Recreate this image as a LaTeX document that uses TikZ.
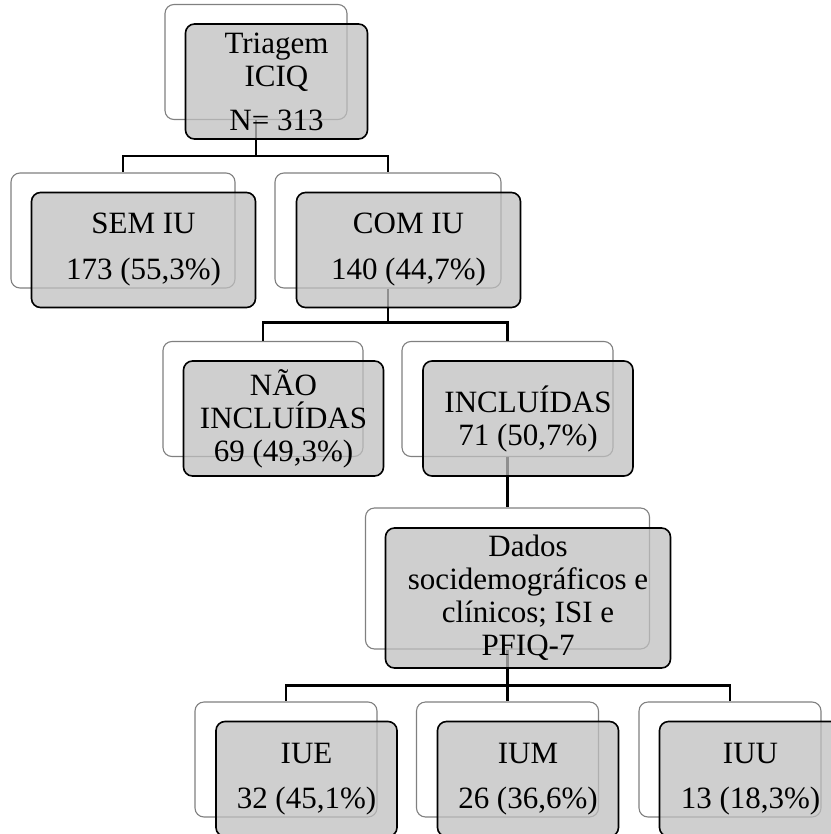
\documentclass[tikz,border=0pt]{standalone}
\usepackage{fontspec}
\setmainfont{Liberation Serif}
\begin{document}
\begin{tikzpicture}[x=1pt,y=-1pt]
	\tikzset{back box/.style={draw=black!50, fill=white, line width=1.1pt, rounded corners=9pt, inner sep=0pt, minimum width=#1, minimum height=115pt}}
	\tikzset{front box/.style={draw=black, line width=1.6pt, fill=black!25, fill opacity=0.75, text opacity=1, rounded corners=9pt, inner sep=0pt, minimum width=#1, minimum height=115pt, align=center, font=\fontsize{31}{33}\selectfont, xshift=20.5pt, yshift=-19.5pt}}
	\tikzset{link/.style={line width=2.4pt, line join=miter}}
	\useasboundingbox (0,0) rectangle (830,834);

	% back layer
	\node[back box=182pt] (triagemB) at (256,62) {};
	\node[back box=224pt] (semB) at (123,230.5) {};
	\node[back box=226pt] (comB) at (388,230.5) {};
	\node[back box=200pt] (naoB) at (263,399) {};
	\node[back box=211pt] (inclB) at (507.5,399) {};
	\node[back box=284pt, minimum height=141pt] (dadosB) at (507.5,578.5) {};
	\node[back box=182pt] (iueB) at (286,759.5) {};
	\node[back box=182pt] (iumB) at (507.5,759.5) {};
	\node[back box=182pt] (iuuB) at (730,759.5) {};

	% connectors
	\draw[link] (triagemB.south) -- ++(0,36) -| (semB.north)
		(triagemB.south) -- ++(0,36) -| (comB.north);
	\draw[link] (comB.south) -- ++(0,34) -| (naoB.north)
		(comB.south) -- ++(0,34) -| (inclB.north);
	\draw[link] (inclB.south) -- (dadosB.north);
	\draw[link] (dadosB.south) -- ++(0,36) -| (iueB.north)
		(dadosB.south) -- ++(0,36) -| (iumB.north)
		(dadosB.south) -- ++(0,36) -| (iuuB.north);

	% front layer
	\node[front box=182pt] (triagem) at (256,62) {Triagem\\ICIQ\\[11pt]N= 313};
	\node[front box=224pt] (sem) at (123,230.5) {SEM IU\\[13pt]173 (55,3\%)};
	\node[front box=224pt] (com) at (388,230.5) {COM IU\\[13pt]140 (44,7\%)};
	\node[front box=200pt] (nao) at (263,399) {NÃO\\INCLUÍDAS\\69 (49,3\%)};
	\node[front box=210pt] (incl) at (507.5,399) {INCLUÍDAS\\71 (50,7\%)};
	\node[front box=285pt, minimum height=140pt] (dados) at (507.5,578.5) {Dados\\socidemográficos e\\clínicos; ISI e\\PFIQ-7};
	\node[front box=181pt] (iue) at (286,759.5) {IUE\\[12pt]32 (45,1\%)};
	\node[front box=181pt] (ium) at (507.5,759.5) {IUM\\[12pt]26 (36,6\%)};
	\node[front box=182pt] (iuu) at (730,759.5) {IUU\\[12pt]13 (18,3\%)};
\end{tikzpicture}
\end{document}
